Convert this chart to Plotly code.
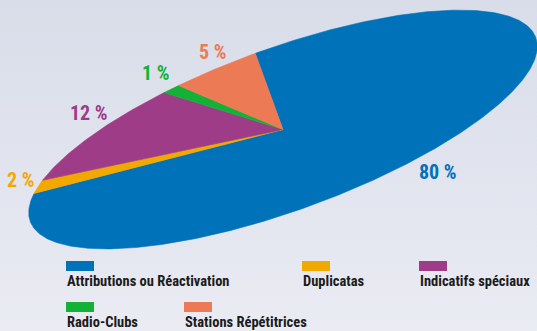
import numpy as np
import plotly.graph_objects as go

# ---- data ----
categories = ["Attributions ou Réactivation", "Duplicatas", "Indicatifs spéciaux",
              "Radio-Clubs", "Stations Répétitrices"]
values = [80, 2, 12, 1, 5]
value_labels = ["80 %", "2 %", "12 %", "1 %", "5 %"]
colors = ["#0072b9", "#f1a900", "#9e3c88", "#13b236", "#ec7a54"]

# ---- layout / style (pixel space) ----
W, H = 537, 331
CX, CY = 283, 129.5          # ellipse centre
A, B = 269, 81               # semi axes
TILT = np.deg2rad(20)        # tilt of major axis
label_pos = [(438, 172), (20, 180), (89, 113), (155, 73), (212, 52)]
legend_pos = [(66, 261), (302, 261), (419, 261), (66, 302), (184, 302)]
FONT = "Roboto Condensed, Roboto, sans-serif"

fig = go.Figure()

# background gradient
fig.add_trace(go.Scatter(
    x=[0, W, W, 0, 0], y=[0, 0, H, H, 0], mode="lines", fill="toself",
    line=dict(width=0),
    fillgradient=dict(type="vertical",
                      colorscale=[[0, "#eaebf3"], [1, "#d8dde9"]]),
    hoverinfo="skip", showlegend=False))

total = sum(values)
cum = 0.0
for cat, v, col in zip(categories, values, colors):
    t0 = np.pi / 2 - 2 * np.pi * cum / total
    t1 = np.pi / 2 - 2 * np.pi * (cum + v) / total
    cum += v
    n = max(8, int(abs(t1 - t0) * 120))
    t = np.linspace(t0, t1, n)
    X = np.concatenate([[0], A * np.cos(t), [0]])
    Y = np.concatenate([[0], B * np.sin(t), [0]])
    xr = X * np.cos(TILT) - Y * np.sin(TILT)
    yr = X * np.sin(TILT) + Y * np.cos(TILT)
    fig.add_trace(go.Scatter(
        x=CX + xr, y=CY - yr, mode="lines", fill="toself",
        fillcolor=col, line=dict(color=col, width=0.6),
        name=cat, hoverinfo="name", showlegend=False))

annotations = []
for txt, col, (x, y) in zip(value_labels, colors, label_pos):
    annotations.append(dict(
        x=x, y=y, xref="x", yref="y", text=txt, showarrow=False,
        xanchor="center", yanchor="middle",
        font=dict(family=FONT, size=20, color=col, weight="bold")))

shapes = []
for cat, col, (x, y) in zip(categories, colors, legend_pos):
    shapes.append(dict(type="rect", xref="x", yref="y",
                       x0=x, x1=x + 28, y0=y, y1=y + 10,
                       fillcolor=col, line=dict(width=0), layer="above"))
    annotations.append(dict(
        x=x - 1, y=y + 10, xref="x", yref="y", text=cat, showarrow=False,
        xanchor="left", yanchor="top",
        font=dict(family=FONT, size=14.5, color="#1b1b1b", weight="bold")))

fig.update_layout(
    width=W, height=H,
    margin=dict(l=0, r=0, t=0, b=0),
    paper_bgcolor="#e2e5ef", plot_bgcolor="rgba(0,0,0,0)",
    xaxis=dict(range=[0, W], visible=False, fixedrange=True),
    yaxis=dict(range=[H, 0], visible=False, fixedrange=True),
    annotations=annotations, shapes=shapes,
    showlegend=False,
)

fig.write_html("out.html", config={"displayModeBar": False},
               post_script="document.body.style.margin='0';document.body.style.overflow='hidden';")
